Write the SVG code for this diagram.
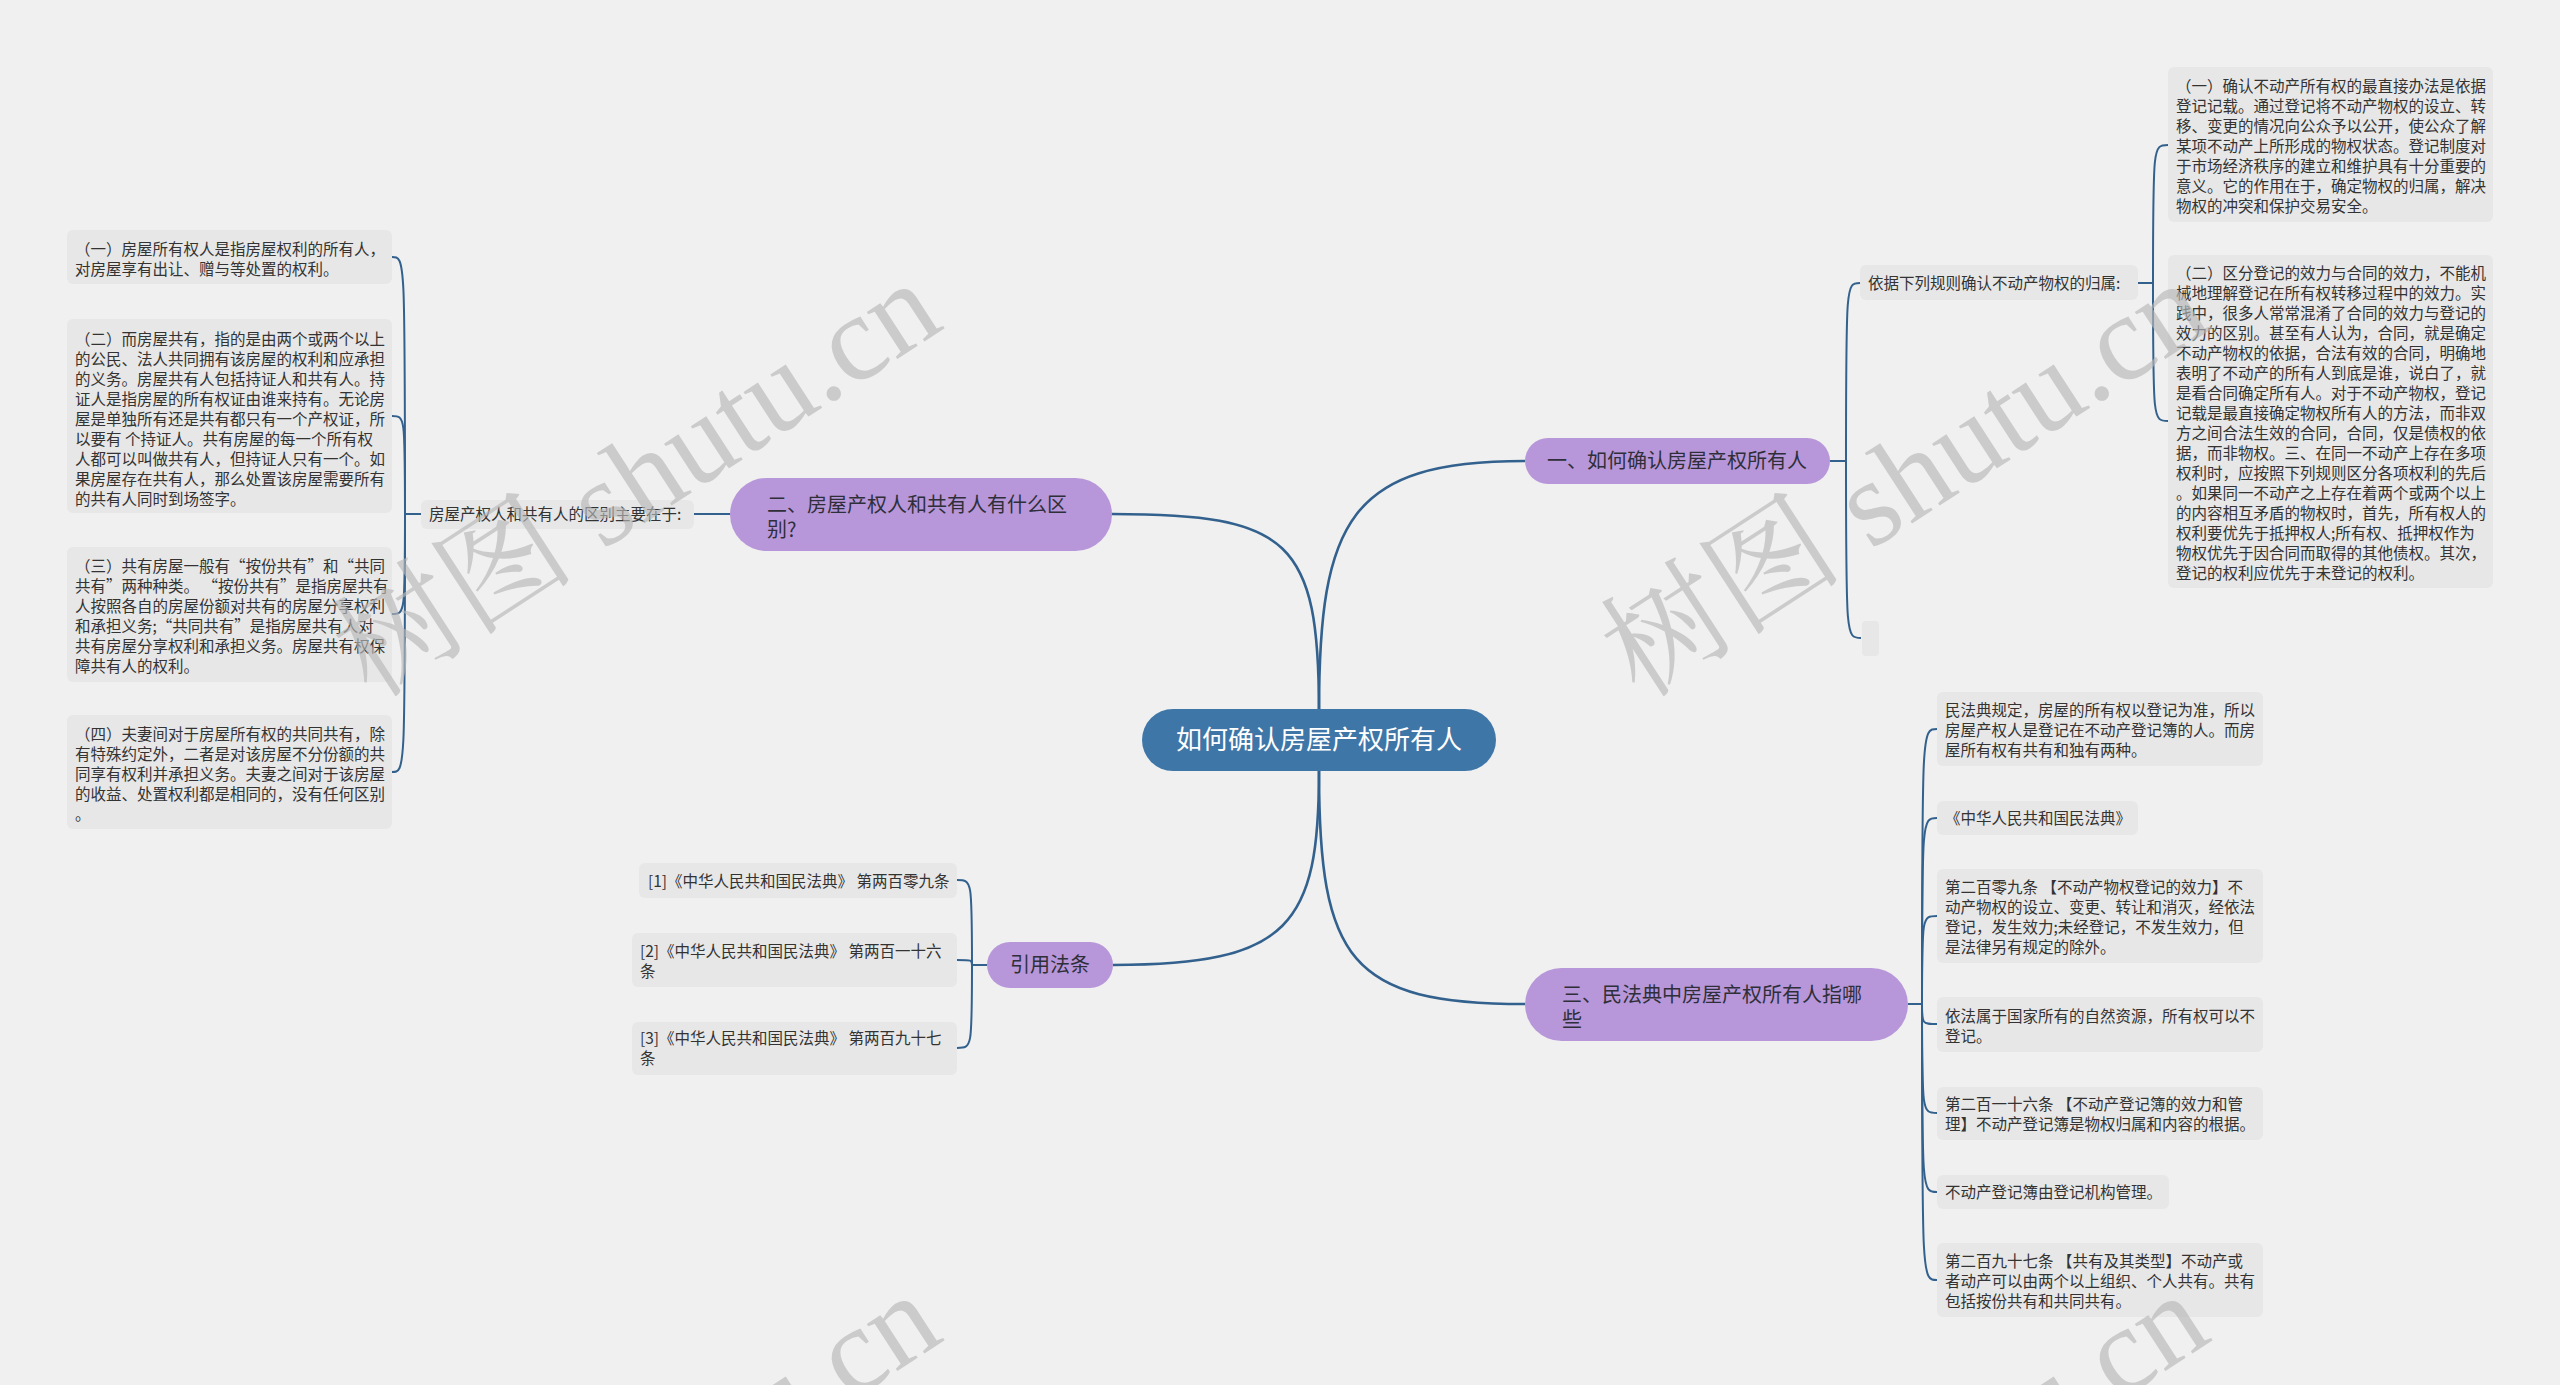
<svg xmlns="http://www.w3.org/2000/svg" width="2560" height="1385" viewBox="0 0 2560 1385">
<style>
.bg{fill:#f0f0f0}
.leaf{fill:#e7e7e7}
.lt{font-family:"Noto Sans CJK SC","Liberation Sans",sans-serif;font-size:15.5px;fill:#333}
.pn{fill:#b797d9}
.pt{font-family:"Noto Sans CJK SC","Liberation Sans",sans-serif;font-size:20px;fill:#2f2f3a}
.cn{fill:#3f76a8}
.ct{font-family:"Noto Sans CJK SC","Liberation Sans",sans-serif;font-size:26px;fill:#ffffff}
.ln{fill:none;stroke:#33618e;stroke-width:2}
.ml{fill:none;stroke:#33618e;stroke-width:2.6}
.wm{font-family:"Liberation Serif","Noto Serif CJK SC","Noto Sans CJK SC",serif;font-size:122px;fill:#b8b8b8;opacity:0.65}
</style>
<rect class="bg" x="0" y="0" width="2560" height="1385"/>

<g id="connectors">
  <path class="ml" d="M1319 712 C1319 520 1350 461 1525 461"/>
  <path class="ml" d="M1319 712 C1319 540 1290 514 1112 514"/>
  <path class="ml" d="M1319 771 C1319 925 1290 965 1113 965"/>
  <path class="ml" d="M1319 771 C1319 960 1350 1004 1525 1004"/>
  <!-- 一 children -->
  <path class="ln" d="M1830 461 L1846 461"/>
  <path class="ln" d="M1846 461 C1846 283 1846 283 1860 283"/>
  <path class="ln" d="M1846 461 C1846 638 1846 638 1861 638"/>
  <!-- 依据 children -->
  <path class="ln" d="M2138 283 L2153 283"/>
  <path class="ln" d="M2153 283 C2153 145 2153 145 2168 145"/>
  <path class="ln" d="M2153 283 C2153 421 2153 421 2168 421"/>
  <!-- 二 child -->
  <path class="ln" d="M730 514 L694 514"/>
  <path class="ln" d="M421 514 L405 514"/>
  <path class="ln" d="M405 514 C405 257 405 257 392 257"/>
  <path class="ln" d="M405 514 C405 416 405 416 392 416"/>
  <path class="ln" d="M405 514 C405 614 405 614 392 614"/>
  <path class="ln" d="M405 514 C405 772 405 772 392 772"/>
  <!-- 引用法条 children -->
  <path class="ln" d="M987 965 L972 965"/>
  <path class="ln" d="M972 965 C972 880 972 880 957 880"/>
  <path class="ln" d="M972 965 C972 960 972 960 957 960"/>
  <path class="ln" d="M972 965 C972 1048 972 1048 957 1048"/>
  <!-- 三 children -->
  <path class="ln" d="M1908 1004 L1922 1004"/>
  <path class="ln" d="M1922 1004 C1922 729 1922 729 1937 729"/>
  <path class="ln" d="M1922 1004 C1922 818 1922 818 1937 818"/>
  <path class="ln" d="M1922 1004 C1922 916 1922 916 1937 916"/>
  <path class="ln" d="M1922 1004 C1922 1024 1922 1024 1937 1024"/>
  <path class="ln" d="M1922 1004 C1922 1113 1922 1113 1937 1113"/>
  <path class="ln" d="M1922 1004 C1922 1192 1922 1192 1937 1192"/>
  <path class="ln" d="M1922 1004 C1922 1280 1922 1280 1937 1280"/>
</g>

<g id="root">
  <rect class="cn" x="1142" y="709" width="354" height="62" rx="31"/>
  <text class="ct" x="1319" y="749" text-anchor="middle">如何确认房屋产权所有人</text>
</g>

<g id="n1">
  <rect class="pn" x="1525" y="438" width="305" height="46" rx="23"/>
  <text class="pt" x="1677" y="468" text-anchor="middle">一、如何确认房屋产权所有人</text>
</g>
<g id="n1a">
  <rect class="leaf" x="1860" y="265" width="278" height="35" rx="6"/>
  <text class="lt" x="1868" y="289">依据下列规则确认不动产物权的归属:</text>
</g>
<g id="n1b">
  <rect class="leaf" x="1862" y="621" width="17" height="35" rx="4"/>
</g>
<g id="n1a1">
  <rect class="leaf" x="2168" y="67" width="325" height="155" rx="6"/>
  <text class="lt" x="2176" y="92">
    <tspan x="2176" y="92">（一）确认不动产所有权的最直接办法是依据</tspan>
    <tspan x="2176" y="112">登记记载。通过登记将不动产物权的设立、转</tspan>
    <tspan x="2176" y="132">移、变更的情况向公众予以公开，使公众了解</tspan>
    <tspan x="2176" y="152">某项不动产上所形成的物权状态。登记制度对</tspan>
    <tspan x="2176" y="172">于市场经济秩序的建立和维护具有十分重要的</tspan>
    <tspan x="2176" y="192">意义。它的作用在于，确定物权的归属，解决</tspan>
    <tspan x="2176" y="212">物权的冲突和保护交易安全。</tspan>
  </text>
</g>
<g id="n1a2">
  <rect class="leaf" x="2168" y="255" width="325" height="333" rx="6"/>
  <text class="lt">
    <tspan x="2176" y="279">（二）区分登记的效力与合同的效力，不能机</tspan>
    <tspan x="2176" y="299">械地理解登记在所有权转移过程中的效力。实</tspan>
    <tspan x="2176" y="319">践中，很多人常常混淆了合同的效力与登记的</tspan>
    <tspan x="2176" y="339">效力的区别。甚至有人认为，合同，就是确定</tspan>
    <tspan x="2176" y="359">不动产物权的依据，合法有效的合同，明确地</tspan>
    <tspan x="2176" y="379">表明了不动产的所有人到底是谁，说白了，就</tspan>
    <tspan x="2176" y="399">是看合同确定所有人。对于不动产物权，登记</tspan>
    <tspan x="2176" y="419">记载是最直接确定物权所有人的方法，而非双</tspan>
    <tspan x="2176" y="439">方之间合法生效的合同，合同，仅是债权的依</tspan>
    <tspan x="2176" y="459">据，而非物权。三、在同一不动产上存在多项</tspan>
    <tspan x="2176" y="479">权利时，应按照下列规则区分各项权利的先后</tspan>
    <tspan x="2176" y="499">。如果同一不动产之上存在着两个或两个以上</tspan>
    <tspan x="2176" y="519">的内容相互矛盾的物权时，首先，所有权人的</tspan>
    <tspan x="2176" y="539">权利要优先于抵押权人;所有权、抵押权作为</tspan>
    <tspan x="2176" y="559">物权优先于因合同而取得的其他债权。其次，</tspan>
    <tspan x="2176" y="579">登记的权利应优先于未登记的权利。</tspan>
  </text>
</g>

<g id="n2">
  <rect class="pn" x="730" y="478" width="382" height="73" rx="36.5"/>
  <text class="pt">
    <tspan x="767" y="512">二、房屋产权人和共有人有什么区</tspan>
    <tspan x="767" y="537">别?</tspan>
  </text>
</g>
<g id="n2a">
  <rect class="leaf" x="421" y="500" width="273" height="29" rx="6"/>
  <text class="lt" x="429" y="520">房屋产权人和共有人的区别主要在于:</text>
</g>
<g id="n2a1">
  <rect class="leaf" x="67" y="230" width="325" height="54" rx="6"/>
  <text class="lt">
    <tspan x="75" y="255">（一）房屋所有权人是指房屋权利的所有人，</tspan>
    <tspan x="75" y="275">对房屋享有出让、赠与等处置的权利。</tspan>
  </text>
</g>
<g id="n2a2">
  <rect class="leaf" x="67" y="319" width="325" height="194" rx="6"/>
  <text class="lt">
    <tspan x="75" y="345">（二）而房屋共有，指的是由两个或两个以上</tspan>
    <tspan x="75" y="365">的公民、法人共同拥有该房屋的权利和应承担</tspan>
    <tspan x="75" y="385">的义务。房屋共有人包括持证人和共有人。持</tspan>
    <tspan x="75" y="405">证人是指房屋的所有权证由谁来持有。无论房</tspan>
    <tspan x="75" y="425">屋是单独所有还是共有都只有一个产权证，所</tspan>
    <tspan x="75" y="445">以要有 个持证人。共有房屋的每一个所有权</tspan>
    <tspan x="75" y="465">人都可以叫做共有人，但持证人只有一个。如</tspan>
    <tspan x="75" y="485">果房屋存在共有人，那么处置该房屋需要所有</tspan>
    <tspan x="75" y="505">的共有人同时到场签字。</tspan>
  </text>
</g>
<g id="n2a3">
  <rect class="leaf" x="67" y="547" width="325" height="135" rx="6"/>
  <text class="lt">
    <tspan x="75" y="572">（三）共有房屋一般有“按份共有”和“共同</tspan>
    <tspan x="75" y="592">共有”两种种类。 “按份共有”是指房屋共有</tspan>
    <tspan x="75" y="612">人按照各自的房屋份额对共有的房屋分享权利</tspan>
    <tspan x="75" y="632">和承担义务;“共同共有”是指房屋共有人对</tspan>
    <tspan x="75" y="652">共有房屋分享权利和承担义务。房屋共有权保</tspan>
    <tspan x="75" y="672">障共有人的权利。</tspan>
  </text>
</g>
<g id="n2a4">
  <rect class="leaf" x="67" y="715" width="325" height="114" rx="6"/>
  <text class="lt">
    <tspan x="75" y="740">（四）夫妻间对于房屋所有权的共同共有，除</tspan>
    <tspan x="75" y="760">有特殊约定外，二者是对该房屋不分份额的共</tspan>
    <tspan x="75" y="780">同享有权利并承担义务。夫妻之间对于该房屋</tspan>
    <tspan x="75" y="800">的收益、处置权利都是相同的，没有任何区别</tspan>
    <tspan x="75" y="820">。</tspan>
  </text>
</g>

<g id="n4">
  <rect class="pn" x="987" y="942" width="126" height="46" rx="23"/>
  <text class="pt" x="1050" y="972" text-anchor="middle">引用法条</text>
</g>
<g id="n4a">
  <rect class="leaf" x="639" y="863" width="318" height="35" rx="6"/>
  <text class="lt" x="648" y="887">[1]《中华人民共和国民法典》 第两百零九条</text>
</g>
<g id="n4b">
  <rect class="leaf" x="632" y="933" width="325" height="54" rx="6"/>
  <text class="lt">
    <tspan x="640" y="957">[2]《中华人民共和国民法典》 第两百一十六</tspan>
    <tspan x="640" y="977">条</tspan>
  </text>
</g>
<g id="n4c">
  <rect class="leaf" x="632" y="1022" width="325" height="53" rx="6"/>
  <text class="lt">
    <tspan x="640" y="1044">[3]《中华人民共和国民法典》 第两百九十七</tspan>
    <tspan x="640" y="1064">条</tspan>
  </text>
</g>

<g id="n3">
  <rect class="pn" x="1525" y="968" width="383" height="73" rx="36.5"/>
  <text class="pt">
    <tspan x="1562" y="1002">三、民法典中房屋产权所有人指哪</tspan>
    <tspan x="1562" y="1027">些</tspan>
  </text>
</g>
<g id="n3a">
  <rect class="leaf" x="1937" y="692" width="326" height="74" rx="6"/>
  <text class="lt">
    <tspan x="1945" y="716">民法典规定，房屋的所有权以登记为准，所以</tspan>
    <tspan x="1945" y="736">房屋产权人是登记在不动产登记簿的人。而房</tspan>
    <tspan x="1945" y="756">屋所有权有共有和独有两种。</tspan>
  </text>
</g>
<g id="n3b">
  <rect class="leaf" x="1937" y="801" width="201" height="34" rx="6"/>
  <text class="lt" x="1945" y="824">《中华人民共和国民法典》</text>
</g>
<g id="n3c">
  <rect class="leaf" x="1937" y="869" width="326" height="94" rx="6"/>
  <text class="lt">
    <tspan x="1945" y="893">第二百零九条 【不动产物权登记的效力】不</tspan>
    <tspan x="1945" y="913">动产物权的设立、变更、转让和消灭，经依法</tspan>
    <tspan x="1945" y="933">登记，发生效力;未经登记，不发生效力，但</tspan>
    <tspan x="1945" y="953">是法律另有规定的除外。</tspan>
  </text>
</g>
<g id="n3d">
  <rect class="leaf" x="1937" y="997" width="326" height="55" rx="6"/>
  <text class="lt">
    <tspan x="1945" y="1022">依法属于国家所有的自然资源，所有权可以不</tspan>
    <tspan x="1945" y="1042">登记。</tspan>
  </text>
</g>
<g id="n3e">
  <rect class="leaf" x="1937" y="1087" width="326" height="53" rx="6"/>
  <text class="lt">
    <tspan x="1945" y="1110">第二百一十六条 【不动产登记簿的效力和管</tspan>
    <tspan x="1945" y="1130">理】不动产登记簿是物权归属和内容的根据。</tspan>
  </text>
</g>
<g id="n3f">
  <rect class="leaf" x="1937" y="1175" width="232" height="34" rx="6"/>
  <text class="lt" x="1945" y="1198">不动产登记簿由登记机构管理。</text>
</g>
<g id="n3g">
  <rect class="leaf" x="1937" y="1243" width="326" height="74" rx="6"/>
  <text class="lt">
    <tspan x="1945" y="1267">第二百九十七条 【共有及其类型】不动产或</tspan>
    <tspan x="1945" y="1287">者动产可以由两个以上组织、个人共有。共有</tspan>
    <tspan x="1945" y="1307">包括按份共有和共同共有。</tspan>
  </text>
</g>

<g id="watermarks">
  <text class="wm" transform="translate(372 700) rotate(-33)">树图 shutu.cn</text>
  <text class="wm" transform="translate(1640 700) rotate(-33)">树图 shutu.cn</text>
  <text class="wm" transform="translate(372 1712) rotate(-33)">树图 shutu.cn</text>
  <text class="wm" transform="translate(1640 1712) rotate(-33)">树图 shutu.cn</text>
</g>
</svg>
